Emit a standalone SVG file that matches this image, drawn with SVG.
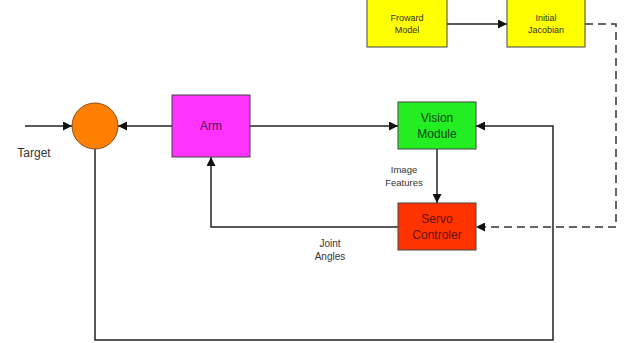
<svg xmlns="http://www.w3.org/2000/svg" width="629" height="343" viewBox="0 0 629 343">
<defs>
<marker id="ah" viewBox="0 0 10 10" refX="10" refY="5" markerWidth="9" markerHeight="9" markerUnits="userSpaceOnUse" orient="auto">
<path d="M0,0 L10,5 L0,10 z" fill="#111"/>
</marker>
</defs>
<style>
.box{stroke:#444;stroke-width:1}
.t{font-family:"Liberation Sans",Arial,sans-serif;fill:#333;text-anchor:middle}
.c{fill:none;stroke:#222;stroke-width:1.5}
.d{fill:none;stroke:#333;stroke-width:1.5;stroke-dasharray:8,5}
</style>
<rect width="629" height="343" fill="#fff"/>
<g id="connectors">
<path class="c" d="M447,24 L507,24" marker-end="url(#ah)"/>
<path class="d" d="M585,24 L616,24 L616,227 L476,227" marker-end="url(#ah)"/>
<path class="c" d="M25,126 L72,126" marker-end="url(#ah)"/>
<path class="c" d="M172,126 L118,126" marker-end="url(#ah)"/>
<path class="c" d="M250,126 L398,126" marker-end="url(#ah)"/>
<path class="c" d="M95,149 L95,340 L553,340 L553,126 L476,126" marker-end="url(#ah)"/>
<path class="c" d="M437,149 L437,203" marker-end="url(#ah)"/>
<path class="c" d="M398,227 L211,227 L211,157" marker-end="url(#ah)"/>
</g>
<g id="froward-model">
<rect class="box" x="367" y="-1" width="80" height="48" fill="#ffff00"/>
<text class="t" x="407" y="21" font-size="9">Froward</text>
<text class="t" x="407" y="33" font-size="9">Model</text>
</g>
<g id="initial-jacobian">
<rect class="box" x="507" y="-1" width="78" height="48" fill="#ffff00"/>
<text class="t" x="546" y="21" font-size="9">Initial</text>
<text class="t" x="546" y="33" font-size="9">Jacobian</text>
</g>
<g id="sum">
<circle cx="95" cy="126" r="23" fill="#ff8000" stroke="#8a4a10" stroke-width="1"/>
</g>
<g id="target">
<text class="t" x="34" y="157" font-size="12">Target</text>
</g>
<g id="arm">
<rect class="box" x="172" y="95" width="78" height="62" fill="#ff33ff"/>
<text class="t" x="211" y="130" font-size="12" style="fill:#551155">Arm</text>
</g>
<g id="vision-module">
<rect class="box" x="398" y="102" width="78" height="47" fill="#22ee22"/>
<text class="t" x="437" y="122" font-size="12" style="fill:#114411">Vision</text>
<text class="t" x="437" y="138" font-size="12" style="fill:#114411">Module</text>
</g>
<g id="servo-controler">
<rect class="box" x="398" y="203" width="78" height="47" fill="#ff3300"/>
<text class="t" x="437" y="223" font-size="12" style="fill:#661100">Servo</text>
<text class="t" x="437" y="239" font-size="12" style="fill:#661100">Controler</text>
</g>
<g id="image-features">
<text class="t" x="404" y="173" font-size="9.5">Image</text>
<text class="t" x="404" y="186" font-size="9.5">Features</text>
</g>
<g id="joint-angles">
<text class="t" x="330" y="247" font-size="10">Joint</text>
<text class="t" x="330" y="260" font-size="10">Angles</text>
</g>
</svg>
